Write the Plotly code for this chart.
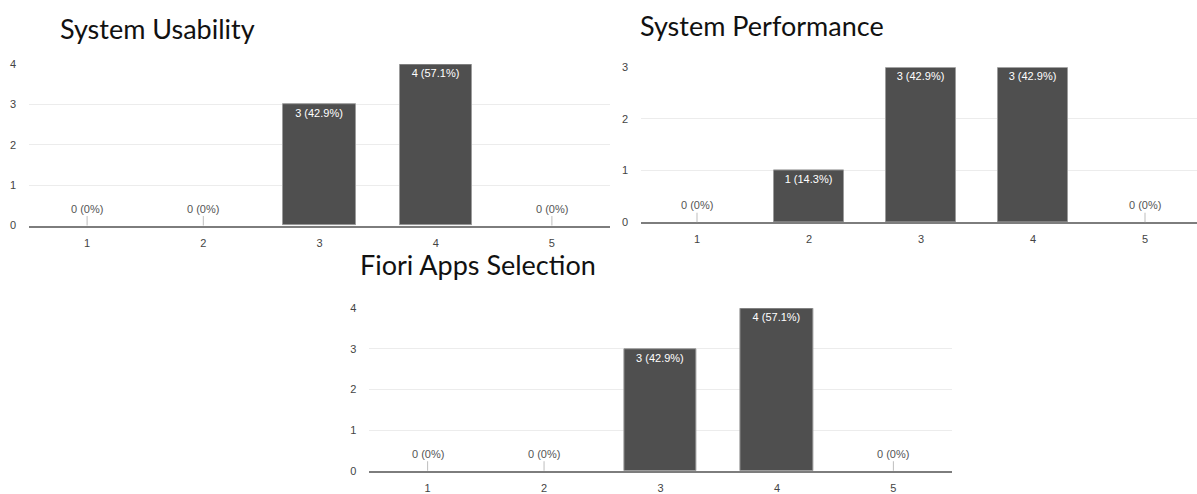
import plotly.graph_objects as go

# Survey results: number of respondents choosing each rating (1-5)
categories = [1, 2, 3, 4, 5]
usability_counts = [0, 0, 3, 4, 0]
performance_counts = [0, 1, 3, 3, 0]
fiori_counts = [0, 0, 3, 4, 0]
respondents = 7
titles = ["System Usability", "System Performance", "Fiori Apps Selection"]

W, H = 1197, 494


def px_x(left, right):
    return [left / W, min(right / W, 1.0)]


def px_y(top, bottom):
    return [1 - bottom / H, 1 - top / H]


def label(v):
    pct = v / respondents * 100
    return f"{v} (0%)" if v == 0 else f"{v} ({pct:.1f}%)"


panels = [
    dict(counts=usability_counts, title=titles[0], xd=px_x(29, 610), yd=px_y(60, 226.4),
         ymax=4, xr=[0.5, 5.5], tx=59, ty=23),
    dict(counts=performance_counts, title=titles[1], xd=px_x(641, 1197), yd=px_y(63.3, 223),
         ymax=3, xr=[0.5, 0.5 + 556 / 112], tx=639, ty=20),
    dict(counts=fiori_counts, title=titles[2], xd=px_x(369.4, 951.6), yd=px_y(311.7, 479.3),
         ymax=4, xr=[0.5, 5.5], tx=359, ty=267),
]

fig = go.Figure()
annotations = []
layout_axes = {}

for i, p in enumerate(panels, start=1):
    xa = "x" if i == 1 else f"x{i}"
    ya = "y" if i == 1 else f"y{i}"
    texts = [label(v) if v > 0 else "" for v in p["counts"]]
    fig.add_trace(go.Bar(
        x=categories, y=p["counts"], xaxis=xa, yaxis=ya,
        width=0.62,
        marker=dict(color="#4f4f4f",
                    line=dict(color="#9c9c9c", width=[1 if v > 0 else 0 for v in p["counts"]])),
        text=texts, textposition="inside", insidetextanchor="end",
        textangle=0,
        textfont=dict(color="white", size=11, family="Liberation Sans, Arial"),
        showlegend=False, hoverinfo="skip",
    ))
    # zero-value markers: small stem with the label above it
    for c, v in zip(categories, p["counts"]):
        if v == 0:
            annotations.append(dict(
                x=c, y=0, xref=xa, yref=ya, text=label(v),
                showarrow=True, arrowhead=0, arrowwidth=1, arrowcolor="#bdbdbd",
                ax=0, ay=-17, standoff=0,
                font=dict(size=11, color="#555555", family="Liberation Sans, Arial"),
            ))
    annotations.append(dict(
        x=p["tx"] / W, y=1 - p["ty"] / H, xref="paper", yref="paper",
        xanchor="left", yanchor="middle", showarrow=False, text=p["title"],
        borderpad=0,
        font=dict(size=27, color="#111111", family="Lato"),
    ))
    xkey = "xaxis" if i == 1 else f"xaxis{i}"
    ykey = "yaxis" if i == 1 else f"yaxis{i}"
    layout_axes[xkey] = dict(
        domain=p["xd"], anchor=ya, range=p["xr"], tickvals=categories,
        showgrid=False, zeroline=False, showline=True, linecolor="#7d7d7d", linewidth=2,
        ticks="", ticklabelstandoff=6, fixedrange=True,
        tickfont=dict(size=11, color="#444444", family="Liberation Sans, Arial"),
    )
    layout_axes[ykey] = dict(
        domain=p["yd"], anchor=xa, range=[0, p["ymax"]],
        tickvals=list(range(p["ymax"] + 1)),
        showgrid=True, gridcolor="#ececec", gridwidth=1, zeroline=False, showline=False,
        ticks="", ticklabelstandoff=12, fixedrange=True,
        tickfont=dict(size=11, color="#444444", family="Liberation Sans, Arial"),
    )

fig.update_layout(
    width=W, height=H, autosize=False,
    margin=dict(l=0, r=0, t=0, b=0),
    paper_bgcolor="white", plot_bgcolor="white",
    annotations=annotations,
    bargap=0,
    **layout_axes,
)

fig.write_html("out.html", config={"displayModeBar": False})
